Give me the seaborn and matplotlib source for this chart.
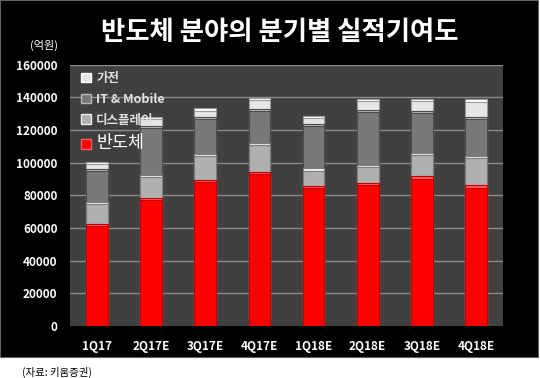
import numpy as np
import pandas as pd
import matplotlib
matplotlib.use("Agg")
import matplotlib.pyplot as plt
import seaborn as sns
from matplotlib.patches import Rectangle

sns.set_theme(style="dark")
plt.rcParams['font.family'] = ['Noto Sans CJK KR', 'DejaVu Sans']

# data (억원)
quarters = ["1Q17", "2Q17E", "3Q17E", "4Q17E", "1Q18E", "2Q18E", "3Q18E", "4Q18E"]
semi = [62300, 78200, 89600, 94500, 85700, 87400, 91600, 86100]
display = [13400, 14100, 15700, 17500, 10800, 11000, 14500, 18200]
it_mobile = [20400, 30300, 22600, 20900, 27100, 33900, 25500, 23700]
appliance = [4300, 5200, 5300, 6500, 4900, 6900, 7200, 10700]

series = ["반도체", "디스플레이", "IT & Mobile", "가전"]
colors = {"반도체": "#ff0000", "디스플레이": "#b0b0b0",
          "IT & Mobile": "#787878", "가전": "#e6e6e6"}
tops = {"반도체": "#ff5a5a", "디스플레이": "#f0f0f0",
        "IT & Mobile": "#b8b8b8", "가전": "#ffffff"}
edges = {"반도체": "#c00000", "디스플레이": "#7a7a7a",
         "IT & Mobile": "#4c4c4c", "가전": "#9a9a9a"}

df = pd.DataFrame({"quarter": quarters, "반도체": semi, "디스플레이": display,
                   "IT & Mobile": it_mobile, "가전": appliance})
cum = df[series].cumsum(axis=1)
cum["quarter"] = df["quarter"]
# slightly lowered copy, so a light cap stays visible on each segment
capped = cum[series] - 1300
capped["quarter"] = df["quarter"]

fig = plt.figure(figsize=(5.4, 3.78), dpi=100, facecolor="white")
fig.patches.append(Rectangle((0, 21 / 378), 538 / 540, 1 - 21 / 378,
                             transform=fig.transFigure, facecolor="black",
                             edgecolor="#606060", lw=0.8, zorder=-10))
ax = fig.add_axes([70 / 540, 52 / 378, 433 / 540, 261.3 / 378])
ax.set_zorder(5)
ax.set_facecolor("#404040")

# draw cumulative totals from the top series down so they stack
handles = {}
for s in reversed(series):
    sns.barplot(data=cum, x="quarter", y=s, color=tops[s], width=0.4,
                edgecolor=edges[s], linewidth=0.8, saturation=1, ax=ax,
                zorder=3)
    sns.barplot(data=capped, x="quarter", y=s, color=colors[s], width=0.4,
                edgecolor=edges[s], linewidth=0.8, saturation=1, ax=ax,
                zorder=3)
    handles[s] = Rectangle((0, 0), 1, 1, facecolor=colors[s],
                           edgecolor=tops[s], lw=1)

ax.set_ylim(0, 160000)
ax.set_xlim(-0.5, 7.5)
ax.set_yticks(np.arange(0, 160001, 20000))
for v in np.arange(20000, 160001, 20000):
    ax.axhline(v, color="#8a8a8a", lw=1, zorder=1)
ax.grid(False)
for sp in ax.spines.values():
    sp.set_visible(False)
ax.set_xlabel("")
ax.set_ylabel("")
ax.tick_params(axis="both", colors="white", length=0, labelsize=8.5)
ax.tick_params(axis="x", pad=10)
ax.tick_params(axis="y", pad=9)
for lab in ax.get_xticklabels() + ax.get_yticklabels():
    lab.set_fontweight("bold")
    lab.set_color("white")

order = ["가전", "IT & Mobile", "디스플레이", "반도체"]
leg = ax.legend([handles[s] for s in order], order, loc="upper left",
                bbox_to_anchor=(0.0, 1.015), frameon=False, handlelength=0.8,
                handleheight=0.8, handletextpad=0.4, labelspacing=0.62,
                fontsize=9)
for t, s in zip(leg.get_texts(), order):
    t.set_color("white")
    if s == "반도체":
        t.set_fontsize(12.5)
    else:
        t.set_fontweight("bold")
        t.set_color("#e0e0e0")

fig.text(280 / 540, 1 - 33 / 378, "반도체 분야의 분기별 실적기여도", color="white",
         fontsize=19, fontweight="bold", ha="center", va="center")
fig.text(44 / 540, 1 - 45 / 378, "(억원)", color="white", fontsize=8,
         ha="center", va="center")
fig.text(22 / 540, 1 - 372 / 378, "(자료: 키움증권)", color="black", fontsize=7.5,
         ha="left", va="center")

fig.savefig("out.png", dpi=100, facecolor=fig.get_facecolor())
